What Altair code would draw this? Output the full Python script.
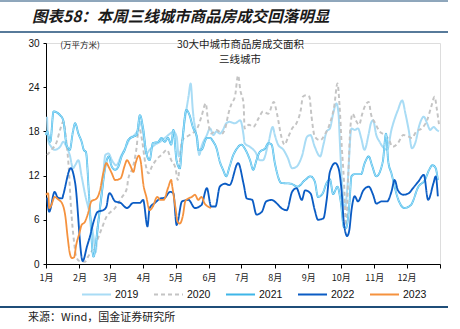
import altair as alt
import pandas as pd

years = ["2019", "2020", "2021", "2022", "2023"]
colors = ["#a9dcf5", "#c4c4c4", "#3fb6e8", "#0b5cc4", "#f5923e"]

d2019 = [1, 2, 5, 8, 13, 16, 19, 22, 25, 27, 30, 33, 36, 41, 44, 46, 48, 52, 55, 58, 61, 65, 70, 75, 78, 82, 86, 87, 90, 93, 96, 101, 106, 110, 115, 118, 121, 123, 129, 132, 134, 136, 140, 142, 144, 149, 152, 155, 158, 161, 164, 167, 170, 175, 180, 183, 184, 189, 194, 198, 201, 206, 210, 212, 215, 220, 224, 228, 232, 237, 242, 245, 249, 254, 257, 260, 263, 266, 269, 271, 272, 274, 277, 279, 283, 286, 289, 292, 295, 299, 301, 303, 306, 309, 312, 316, 320, 326, 330, 333, 336, 339, 342, 346, 350, 353, 356, 359, 362, 364]
v2019 = [20.0, 16.8, 15.9, 15.5, 15.9, 16.6, 15.9, 14.8, 13.0, 13.4, 14.1, 11.9, 9.6, 6.4, 3.7, 1.6, 5.1, 10.0, 14.8, 15.0, 14.1, 13.4, 14.8, 16.2, 17.1, 17.5, 18.6, 19.3, 17.7, 15.0, 15.5, 16.2, 16.6, 17.1, 17.7, 18.0, 17.3, 14.6, 20.0, 22.7, 24.5, 20.9, 16.8, 14.8, 15.9, 17.5, 18.4, 17.5, 18.0, 17.7, 18.2, 19.1, 19.3, 19.1, 19.5, 17.5, 16.4, 15.9, 15.2, 14.1, 14.1, 16.4, 18.6, 17.5, 16.2, 15.5, 14.4, 13.0, 13.2, 14.6, 17.3, 17.5, 15.9, 14.6, 16.2, 18.0, 18.4, 20.4, 21.8, 20.4, 17.3, 11.4, 7.5, 10.0, 18.4, 18.2, 18.4, 17.1, 15.5, 17.7, 19.1, 19.5, 17.5, 16.6, 15.9, 15.5, 18.2, 20.9, 22.2, 20.4, 18.2, 15.7, 16.4, 18.9, 20.0, 19.1, 18.2, 18.6, 18.2, 18.0]

d2020 = [1, 5, 10, 13, 16, 19, 21, 23, 26, 28, 31, 36, 39, 45, 50, 56, 64, 70, 75, 76, 81, 84, 86, 89, 92, 95, 98, 103, 107, 112, 116, 120, 122, 126, 133, 140, 144, 148, 150, 153, 158, 163, 166, 169, 172, 175, 178, 180, 183, 184, 188, 192, 197, 201, 206, 211, 214, 218, 221, 224, 228, 232, 236, 238, 241, 244, 246, 249, 254, 258, 263, 267, 270, 272, 274, 276, 278, 280, 282, 284, 287, 290, 293, 296, 299, 301, 305, 309, 314, 318, 321, 326, 331, 336, 339, 343, 348, 353, 357, 360, 362, 364]
v2020 = [14.8, 15.5, 16.6, 18.2, 19.3, 16.4, 13.2, 8.0, 3.0, 1.0, 0.4, 0.3, 1.0, 2.4, 4.2, 6.4, 7.6, 9.0, 10.3, 11.4, 13.4, 15.9, 18.6, 16.8, 13.7, 12.3, 13.2, 14.3, 14.8, 15.5, 14.1, 13.0, 11.4, 16.8, 17.5, 18.4, 20.0, 21.8, 19.5, 17.7, 18.2, 17.7, 18.4, 20.4, 21.8, 22.7, 25.6, 23.6, 21.8, 18.4, 18.9, 18.6, 19.8, 20.7, 20.4, 22.0, 20.4, 17.3, 16.2, 17.1, 18.4, 19.1, 20.9, 22.7, 22.9, 22.7, 20.0, 17.3, 16.8, 17.5, 19.1, 21.4, 24.5, 21.4, 15.9, 11.4, 5.2, 12.0, 18.6, 20.4, 19.5, 18.9, 20.4, 21.6, 22.0, 20.4, 19.1, 18.0, 17.5, 16.8, 15.9, 16.4, 17.5, 17.3, 17.1, 18.0, 18.4, 19.5, 21.4, 22.7, 21.1, 19.0]

d2021 = [0, 1, 4, 7, 13, 16, 19, 22, 25, 27, 30, 33, 35, 37, 40, 44, 48, 52, 55, 58, 61, 64, 67, 70, 73, 76, 81, 84, 87, 90, 93, 96, 99, 104, 107, 110, 113, 116, 118, 121, 124, 126, 130, 133, 136, 140, 141, 144, 149, 152, 155, 158, 161, 164, 167, 170, 173, 177, 181, 184, 189, 192, 195, 198, 203, 206, 209, 212, 218, 227, 233, 240, 245, 249, 252, 256, 260, 263, 266, 270, 273, 276, 278, 281, 283, 286, 292, 295, 299, 302, 306, 312, 315, 317, 320, 327, 332, 338, 345, 351, 355, 358, 361, 363]
v2021 = [17.5, 18.0, 16.6, 20.7, 20.2, 19.5, 16.2, 15.5, 18.0, 19.1, 17.7, 16.6, 15.5, 15.2, 9.0, 1.0, 5.1, 10.0, 13.2, 14.6, 13.2, 12.8, 13.2, 14.6, 15.5, 16.8, 17.3, 17.5, 20.2, 18.4, 15.0, 14.1, 16.4, 16.6, 17.1, 16.6, 17.1, 16.2, 18.2, 14.0, 13.0, 16.0, 20.9, 20.2, 18.6, 17.1, 15.5, 15.5, 17.1, 17.1, 16.6, 15.7, 13.9, 12.8, 11.9, 13.2, 14.6, 15.7, 16.2, 15.7, 14.1, 12.8, 14.1, 15.2, 15.7, 16.4, 16.2, 13.7, 11.0, 10.9, 10.5, 11.4, 11.9, 11.2, 9.1, 9.5, 11.0, 11.5, 9.5, 10.5, 8.5, 5.0, 4.9, 8.0, 11.9, 12.2, 12.2, 13.6, 14.6, 13.4, 11.9, 13.9, 17.7, 14.0, 12.3, 8.5, 7.6, 8.0, 10.5, 11.4, 12.8, 13.4, 13.0, 11.4]

d2022 = [1, 3, 8, 11, 15, 16, 23, 27, 34, 38, 41, 44, 48, 53, 56, 58, 59, 64, 69, 75, 81, 87, 90, 94, 96, 101, 106, 110, 115, 118, 121, 126, 132, 138, 144, 149, 153, 157, 161, 166, 170, 178, 183, 186, 191, 195, 200, 204, 209, 214, 218, 223, 228, 232, 237, 240, 245, 249, 252, 257, 260, 263, 268, 271, 274, 276, 279, 281, 283, 286, 289, 294, 299, 303, 306, 311, 316, 320, 323, 326, 331, 336, 340, 345, 350, 354, 359, 361, 363]
v2022 = [9.0, 7.1, 9.8, 9.0, 8.9, 9.4, 13.0, 11.0, 0.4, 2.4, 3.9, 5.7, 7.1, 7.3, 7.8, 9.4, 9.6, 8.5, 8.3, 7.6, 8.3, 8.3, 8.7, 5.1, 7.6, 8.3, 8.9, 9.0, 9.8, 9.6, 5.3, 8.5, 8.7, 7.6, 8.0, 10.3, 7.8, 7.8, 10.5, 10.9, 10.7, 13.7, 10.9, 8.9, 8.7, 6.7, 7.1, 8.5, 8.7, 8.2, 7.6, 7.3, 9.8, 10.3, 8.7, 10.0, 9.6, 7.3, 6.0, 6.2, 8.7, 12.5, 13.7, 13.0, 9.6, 5.5, 3.8, 4.6, 7.3, 9.2, 8.5, 10.0, 10.5, 9.4, 8.2, 8.5, 8.5, 9.8, 11.4, 10.0, 9.4, 9.6, 10.3, 11.2, 12.1, 8.7, 11.0, 11.9, 9.2]

d2023 = [0, 2, 3, 5, 8, 11, 15, 18, 20, 22, 24, 26, 28, 31, 33, 36, 39, 42, 47, 50, 53, 56, 58, 61, 64, 69, 73, 75, 78, 81, 83, 86, 88, 90, 93, 96, 99, 103, 106, 109, 113, 116, 117, 120, 122, 124, 127, 129, 132, 135, 138, 141, 144, 147, 150, 153]
v2023 = [9.4, 9.6, 7.6, 8.0, 9.1, 8.8, 8.2, 6.4, 3.7, 1.5, 0.8, 0.9, 2.6, 4.2, 5.3, 5.7, 6.9, 8.5, 8.9, 10.0, 12.3, 13.7, 13.2, 12.3, 11.4, 11.6, 13.4, 14.1, 13.4, 12.5, 13.7, 14.7, 13.7, 11.0, 9.1, 7.3, 7.8, 9.1, 8.7, 8.7, 10.3, 11.4, 10.5, 7.6, 5.7, 5.5, 6.7, 8.5, 8.9, 9.1, 9.4, 8.7, 9.1, 8.2, 7.8, 7.6]

month_starts = [0, 31, 59, 90, 120, 151, 181, 212, 243, 273, 304, 334, 365]
month_labels = ["1月", "2月", "3月", "4月", "5月", "6月", "7月", "8月", "9月", "10月", "11月", "12月", ""]

title_text = "图表58：本周三线城市商品房成交回落明显"
unit_text = "(万平方米)"
note1 = "30大中城市商品房成交面积"
note2 = "三线城市"
source_text = "来源：Wind，国金证券研究所"

rows = []
for y, ds, vs in [("2019", d2019, v2019), ("2020", d2020, v2020), ("2021", d2021, v2021),
                  ("2022", d2022, v2022), ("2023", d2023, v2023)]:
    for d, v in zip(ds, vs):
        rows.append({"year": y, "day": d, "value": v})
df = pd.DataFrame(rows)

CJK = "Noto Sans CJK SC"
LAT = "Liberation Sans"

label_expr = "{" + ",".join(f"'{d}':'{l}'" for d, l in zip(month_starts, month_labels)) + "}[datum.value]"

x_scale = alt.Scale(domain=[0, 365], nice=False, zero=False)
y_scale = alt.Scale(domain=[0, 30], nice=False)

x_axis = alt.Axis(values=month_starts, labelExpr=label_expr, title=None, grid=False,
                  tickSize=4, labelPadding=5, labelFont=CJK, labelFontSize=9,
                  labelColor="#222", domainColor="#000", tickColor="#000",
                  labelAngle=0, labelOverlap=False, labelFlush=False, labelBound=False)
y_axis = alt.Axis(values=[0, 6, 12, 18, 24, 30], title=None, grid=False,
                  tickSize=3, labelPadding=4, labelFont=LAT, labelFontSize=10,
                  labelColor="#111", domainColor="#000", tickColor="#000",
                  labelFlush=False, labelOverlap=False)

color_scale = alt.Scale(domain=years, range=colors)
dash_scale = alt.Scale(domain=years, range=[[1, 0], [4, 3], [1, 0], [1, 0], [1, 0]])
width_scale = alt.Scale(domain=years, range=[2, 1.8, 3.2, 2.2, 2])

legend = alt.Legend(title=None, orient="none", legendX=35, legendY=236, direction="horizontal",
                    columns=5, symbolType="stroke", symbolSize=841, labelFont=LAT,
                    labelFontSize=10.5, labelColor="#111", labelOffset=3, columnPadding=11,
                    padding=0)

def xy():
    return dict(x=alt.X("day:Q", scale=x_scale, axis=x_axis),
                y=alt.Y("value:Q", scale=y_scale, axis=y_axis))

def series_layer(filter_years):
    return alt.Chart(df).transform_filter(
        alt.FieldOneOfPredicate(field="year", oneOf=filter_years)
    ).mark_line(interpolate="monotone").encode(
        **xy(),
        color=alt.Color("year:N", scale=color_scale, legend=legend),
        strokeDash=alt.StrokeDash("year:N", scale=dash_scale, legend=legend),
        strokeWidth=alt.StrokeWidth("year:N", scale=width_scale, legend=legend),
        detail="year:N",
    )

back = series_layer(["2019", "2020", "2021"])
inner = alt.Chart(df).transform_filter(alt.datum.year == "2021").mark_line(
    interpolate="monotone", color="#b8e7fb", strokeWidth=0.9
).encode(**xy())
front = series_layer(["2022", "2023"])

def txt(t, x, y, size, font=CJK, align="left", weight="normal", style="normal", color="#222"):
    return alt.Chart(pd.DataFrame({"t": [t]})).mark_text(
        align=align, baseline="middle", fontSize=size, font=font, fontWeight=weight,
        fontStyle=style, color=color
    ).encode(text="t:N", x=alt.value(x), y=alt.value(y))

def hline(y, x1, x2, w):
    return alt.Chart(pd.DataFrame({"a": [0]})).mark_rule(color="#1f4e79", strokeWidth=w).encode(
        x=alt.value(x1), x2=alt.value(x2), y=alt.value(y))

title = txt(title_text, -14, -26, 15.5, weight="bold", style="italic", color="#1a1a1a")
unit = txt(unit_text, 34, 2, 8.5, align="center")
n1 = txt(note1, 194.5, 1.5, 10.5, align="center")
n2 = txt(note2, 194, 16.5, 10.5, align="center")
src = txt(source_text, -18, 275, 11)

chart = alt.layer(
    back, inner, front, unit, n1, n2, title, src,
    hline(-42, -46, 402, 1), hline(-11, -46, 402, 1.5), hline(264, -46, 402, 2)
).resolve_scale(color="shared").properties(
    width=394, height=221, autosize="none",
    padding={"left": 46, "top": 43, "right": 20, "bottom": 65}
).configure_view(stroke=None).configure_axisX(labelOverlap=False).configure(background="white")

chart.save("out.html", embed_options={"renderer": "svg", "actions": False})
